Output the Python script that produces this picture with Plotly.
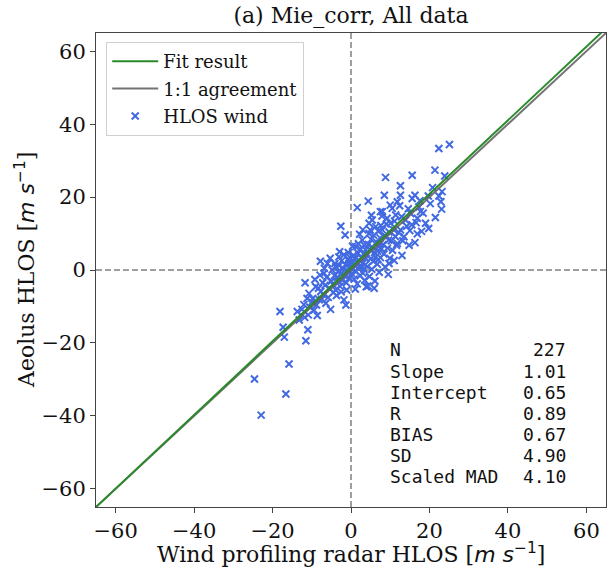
import plotly.graph_objects as go

# ---------------- data ----------------
radar_hlos = [
    25.1, 22.4, 21.4, 23.9, 15.6, 8.8, 12.6, 8.5, 12.6, 4.4, 1.6, 16.3, 15.6, 19.7, 23.2, 22.4,
    22.9, 23.1, 21.5, 17.3, 17.7, 10.5, 11.8, 7.5, 16.9, 19.0, 19.8, 16.9, 16.3, -2.6, -1.5, 9.7,
    -11.7, -18.1, -13.7, -13.2, -17.3, -17.0, -11.0, -11.5, -15.8, -24.6, -16.6, -22.9, -10.9,
    -12.0, -11.2, -10.5, -10.7, -9.8, -9.0, -9.4, -8.6, -8.1, -8.3, -11.8, -10.0, -9.2, -8.8, -12.5,
    -7.7, -7.2, -6.9, -6.4, -6.0, -5.2, -7.8, -7.0, -6.6, -6.2, -5.8, -5.5, -5.0, -4.8, -4.5, -4.2,
    -7.5, -6.8, -5.3, -4.6, -4.1, -7.9,
    -3.9, -3.9, -3.1, -3.1, -1.8, -1.3, -3.5, -3.3, -3.0, -2.8, -2.6, -2.4, -2.2, -2.0, -1.8, -1.6,
    -1.4, -1.2, -1.0, -0.8, -0.6, -0.5, -0.4, -0.3, -0.2, -3.7, -2.9, -1.1, -0.7, -2.5,
    0.2, 0.3, 0.5, 0.6, 0.8, 0.9, 1.0, 1.2, 1.3, 1.5, 1.6, 1.8, 2.0, 2.1, 2.3, 2.4, 2.6, 2.7, 2.9,
    3.0, 3.1, 3.2, 3.4, 3.5, 3.6, 3.7, 3.8, 3.9, 0.4, 1.1, 2.2, 3.3, 0.7, 1.9, 3.0,
    4.1, 4.2, 4.4, 4.6, 4.6, 4.7, 4.8, 5.0, 5.1, 5.3, 5.4, 5.5, 5.7, 5.8, 6.0, 6.1, 6.3, 6.3, 6.5,
    6.7, 6.8, 7.0, 7.1, 7.2, 7.4, 7.5, 7.6, 7.8, 7.9, 4.3, 5.9, 6.9, 4.9, 7.3, 5.2,
    8.0, 8.0, 8.2, 8.4, 8.6, 8.8, 9.0, 9.2, 9.3, 9.5, 9.7, 9.9, 10.1, 10.3, 10.6, 10.9, 11.1, 11.3,
    11.4, 11.6, 11.8, 8.7, 10.0, 11.0, 9.6,
    12.2, 12.6, 12.9, 13.2, 13.5, 13.9, 14.2, 14.6, 15.0, 15.2, 15.5, 13.0, 14.8, 12.4,
    16.6, 17.6, 18.4, 20.2, 20.8, 18.0,
]
aeolus_hlos = [
    34.4, 33.3, 27.4, 25.8, 26.0, 25.4, 23.1, 20.5, 20.5, 18.9, 17.1, 20.5, 19.6, 20.3, 21.5, 20.3,
    18.7, 16.7, 14.4, 17.3, 16.0, 16.9, 18.7, 16.0, 14.2, 12.8, 11.4, 9.9, 7.5, 12.0, 9.6, 1.8,
    -3.5, -11.4, -11.4, -13.7, -15.7, -18.4, -16.4, -19.4, -25.8, -29.9, -34.0, -39.8, -12.3,
    -9.5, -7.8, -10.2, -6.4, -7.8, -4.6, -11.0, -12.5, -8.2, -5.0, -13.0, -8.8, -2.6, -9.6, -10.8,
    -5.9, -3.5, -0.9, -9.1, 1.8, -10.8, 2.4, -6.8, -4.2, -2.0, -7.5, -5.0, -3.0, 0.0, -6.2, -1.5,
    -8.0, 0.5, 3.2, -4.0, 1.8, -1.4,
    -5.5, 0.9, 3.6, -3.2, -8.2, -9.6, -2.0, -0.5, 1.2, -4.5, -1.0, 2.5, -2.8, 0.4, 4.2, -1.6,
    1.5, -3.5, 0.0, 2.8, -0.8, 1.8, -2.2, 3.5, 0.6, -7.0, 5.0, -5.5, 4.8, -6.0,
    -1.0, 2.0, 0.5, 4.0, -2.5, 1.2, 3.0, 6.4, -0.4, 2.2, -3.8, 4.6, 2.7, 0.8, -1.6, 5.8, 3.4, 1.0, 8.2,
    -0.8, 2.0, 4.4, 6.8, -2.8, 1.4, 5.5, 3.2, -4.6, 6.5, -5.2, 9.8, 0.2, 1.6, 7.2, 11.0,
    4.2, 1.0, 7.0, 10.0, 12.8, -1.8, 5.6, 3.0, 8.4, 0.2, 13.7, 6.2, 2.4, 9.5, 4.8, -3.0, 11.9, 3.6, 7.6,
    1.6, 5.2, 10.6, 6.4, -0.6, 8.8, 3.4, 12.2, 5.8, 14.8, -4.4, -5.0, 2.8, 11.0, 7.2, 15.0,
    11.0, 16.0, 7.0, 4.4, 9.4, 9.1, 12.6, 14.2, 6.0, -1.2, 10.4, 3.2, 12.8, 8.0, 5.4, 11.0, 13.4, 9.2,
    15.1, 6.8, 7.3, 0.8, 17.8, 2.6, 8.2,
    10.2, 11.0, 14.6, 8.0, 9.1, 13.7, 12.0, 16.8, 10.8, 15.5, 12.4, 4.0, 6.8, 17.6,
    13.0, 19.0, 15.6, 18.2, 22.6, 10.6,
]

stat_labels = ["N", "Slope", "Intercept", "R", "BIAS", "SD", "Scaled MAD"]
stat_values = ["227", "1.01", "0.65", "0.89", "0.67", "4.90", "4.10"]
fit_slope = 1.01
fit_intercept = 0.65

axis_range = [-65, 65]
tick_values = [-60, -40, -20, 0, 20, 40, 60]

# ---------------- figure ----------------
SERIF = "DejaVu Serif"
MONO = "DejaVu Sans Mono"
UNIT = "[<span style=\"font-family:'DejaVu Sans'\"><i>m s</i><sup>−1</sup></span>]"

W, H = 607, 573
plot_left, plot_right, plot_top, plot_bottom = 96, 606, 33, 507
plot_w, plot_h = plot_right - plot_left, plot_bottom - plot_top

fig = go.Figure()

fig.add_trace(go.Scatter(
    x=radar_hlos, y=aeolus_hlos, mode="markers", name="HLOS wind",
    marker=dict(symbol="x-thin", size=7, line=dict(width=2, color="royalblue"), color="royalblue"),
    legendgroup="c", legendrank=3,
))
fig.add_trace(go.Scatter(
    x=axis_range, y=axis_range, mode="lines", name="1:1 agreement",
    line=dict(color="rgba(100,100,100,0.9)", width=2),
    legendgroup="b", legendrank=2,
))
fig.add_trace(go.Scatter(
    x=axis_range, y=[fit_slope * v + fit_intercept for v in axis_range], mode="lines", name="Fit result",
    line=dict(color="#2a8a2a", width=2),
    legendgroup="a", legendrank=1,
))

axis_common = dict(
    range=axis_range, tickvals=tick_values, ticks="outside", ticklen=5, tickwidth=1,
    tickcolor="#444", showline=True, linecolor="#444", linewidth=1, mirror=True,
    showgrid=False, zeroline=False, tickfont=dict(family=SERIF, size=21, color="#111"),
    automargin=False,
)

fig.update_layout(
    width=W, height=H,
    margin=dict(l=plot_left, r=W - plot_right, t=plot_top, b=H - plot_bottom, autoexpand=False),
    paper_bgcolor="white", plot_bgcolor="white",
    title=dict(text="(a) Mie_corr, All data", x=351 / W, xanchor="center",
               y=1 - 15 / H, yanchor="middle", font=dict(family=SERIF, size=22, color="#111")),
    xaxis=dict(axis_common),
    yaxis=dict(axis_common),
    legend=dict(x=0.02, y=0.981, xanchor="left", yanchor="top",
                bgcolor="rgba(255,255,255,0.9)", bordercolor="#d0d0d0", borderwidth=1,
                font=dict(family=SERIF, size=18, color="#111"), tracegroupgap=1,
                traceorder="grouped", itemwidth=46),
    showlegend=True,
    shapes=[
        dict(type="line", xref="x", yref="paper", x0=0, x1=0, y0=0, y1=1,
             line=dict(color="gray", width=1.5, dash="6px,3px"), layer="below"),
        dict(type="line", xref="paper", yref="y", x0=0, x1=1, y0=0, y1=0,
             line=dict(color="gray", width=1.5, dash="6px,3px"), layer="below"),
    ],
)

# axis titles
fig.add_annotation(x=0.5, y=(plot_bottom - 553) / plot_h, xref="paper", yref="paper",
                   text="Wind profiling radar HLOS " + UNIT, showarrow=False,
                   xanchor="center", yanchor="middle",
                   font=dict(family=SERIF, size=22, color="#111"))
fig.add_annotation(x=(25 - plot_left) / plot_w, y=0.5, xref="paper", yref="paper",
                   text="Aeolus HLOS " + UNIT, showarrow=False, textangle=-90,
                   xanchor="center", yanchor="middle",
                   font=dict(family=SERIF, size=22, color="#111"))

# statistics box (monospace text, labels left, values right)
row0, row_step = 350, 21.1
for i, (lab, val) in enumerate(zip(stat_labels, stat_values)):
    yc = (plot_bottom - (row0 + i * row_step)) / plot_h
    fig.add_annotation(x=(388 - plot_left) / plot_w, y=yc, xref="paper", yref="paper",
                       text=lab, showarrow=False, xanchor="left", yanchor="middle",
                       font=dict(family=MONO, size=18, color="#111"))
    fig.add_annotation(x=(568 - plot_left) / plot_w, y=yc, xref="paper", yref="paper",
                       text=val, showarrow=False, xanchor="right", yanchor="middle",
                       font=dict(family=MONO, size=18, color="#111"))

fig.write_html(
    "out.html",
    config={"displayModeBar": False},
    post_script="document.body.style.margin='0';document.body.style.overflow='hidden';",
)
